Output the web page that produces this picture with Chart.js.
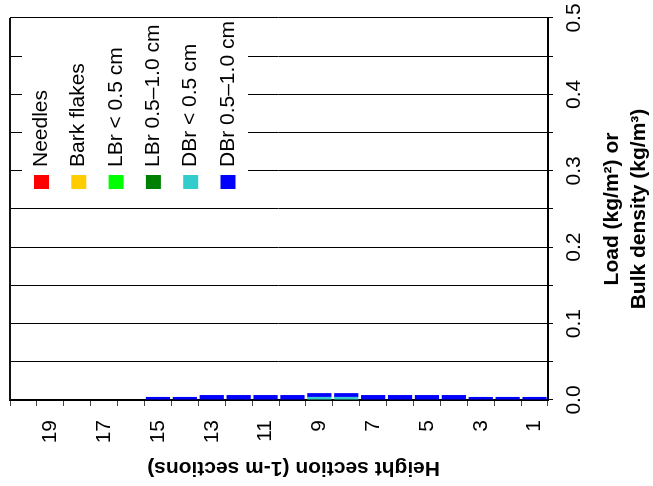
<!DOCTYPE html>
<html>
<head>
<meta charset="utf-8">
<script src="https://cdn.jsdelivr.net/npm/chart.js@4"></script>
<style>
  html, body { margin: 0; padding: 0; background: #fff; overflow: hidden; width: 653px; height: 486px; }
  /* the chart is laid out upright and turned a quarter-turn counter-clockwise */
  #wrap { position: absolute; left: 0; top: 0; width: 486px; height: 653px;
          transform-origin: 0 0; transform: translateY(486px) rotate(-90deg); }
</style>
</head>
<body>
<div id="wrap"><canvas id="c" width="486" height="653"></canvas></div>
<script>
// Height sections, listed top (20) to bottom (1)
const heightSections = ['20','19','18','17','16','15','14','13','12','11','10','9','8','7','6','5','4','3','2','1'];

// Load per fuel class (kg/m2), same order as heightSections
const needles     = [0,0,0,0,0, 0,0, 0,0,0,0, 0,0, 0,0,0,0, 0,0,0];
const barkFlakes  = [0,0,0,0,0, 0,0, 0,0,0,0, 0,0, 0,0,0,0, 0,0,0];
const lbrFine     = [0,0,0,0,0, 0,0, 0,0,0,0, 0,0, 0,0,0,0, 0,0,0];
const lbrCoarse   = [0,0,0,0,0, 0,0, 0,0,0,0, 0,0, 0,0,0,0, 0,0,0];
const dbrFine     = [0,0,0,0,0, 0,0, 0,0,0,0, 0.004,0.004, 0,0,0,0, 0,0,0];
const dbrCoarse   = [0,0,0,0,0, 0.004,0.004, 0.0065,0.0065,0.0065,0.0065, 0.005,0.005, 0.0065,0.0065,0.0065,0.0065, 0.004,0.004,0.004];

// Value axis tick labels
const loadTicks = ['0.0','0.1','0.2','0.3','0.4','0.5'];

Chart.defaults.font.family = '"Liberation Sans", Arial, Helvetica, sans-serif';
Chart.defaults.color = '#000';

// Legend drawn inside the plot on a white panel
const insideLegend = {
  id: 'insideLegend',
  beforeDatasetsDraw(chart) {
    const { ctx, chartArea: a } = chart;
    ctx.save();
    ctx.fillStyle = '#fff';
    ctx.fillRect(a.left + 202, a.top + 12, a.right - 1 - (a.left + 202), 226);
    ctx.restore();
  },
  afterDatasetsDraw(chart) {
    const { ctx, chartArea: a } = chart;
    ctx.save();
    // closing edge of the plot frame
    ctx.strokeStyle = '#111';
    ctx.lineWidth = 2;
    ctx.beginPath();
    ctx.moveTo(a.left, a.top);
    ctx.lineTo(a.right, a.top);
    ctx.stroke();

    ctx.font = '21px "Liberation Sans", Arial, sans-serif';
    ctx.textBaseline = 'alphabetic';
    ctx.textAlign = 'left';
    chart.data.datasets.forEach((ds, i) => {
      const cy = a.top + 31.5 + i * 37.3;
      ctx.fillStyle = ds.backgroundColor;
      ctx.fillRect(a.left + 211, cy - 7.5, 14, 15);
      ctx.fillStyle = '#000';
      ctx.fillText(ds.label, a.left + 233, cy + 5.5);
    });
    ctx.restore();
  }
};

new Chart(document.getElementById('c'), {
  type: 'bar',
  data: {
    labels: heightSections,
    datasets: [
      { label: 'Needles',         data: needles,    backgroundColor: '#ff0000' },
      { label: 'Bark flakes',     data: barkFlakes, backgroundColor: '#ffcc00' },
      { label: 'LBr < 0.5 cm',    data: lbrFine,    backgroundColor: '#00ff00' },
      { label: 'LBr 0.5–1.0 cm',  data: lbrCoarse,  backgroundColor: '#008000' },
      { label: 'DBr < 0.5 cm',    data: dbrFine,    backgroundColor: '#33cccc' },
      { label: 'DBr 0.5–1.0 cm',  data: dbrCoarse,  backgroundColor: '#0000ff' }
    ]
  },
  options: {
    indexAxis: 'y',
    responsive: false,
    animation: false,
    devicePixelRatio: 1,
    layout: { padding: { top: 10, right: 18, left: 0, bottom: 0 } },
    datasets: { bar: { categoryPercentage: 0.9, barPercentage: 1.0, borderWidth: 0 } },
    plugins: { legend: { display: false }, tooltip: { enabled: false } },
    scales: {
      x: {
        stacked: true,
        position: 'bottom',
        min: 0,
        max: 0.5,
        ticks: {
          stepSize: 0.05,
          autoSkip: false,
          maxRotation: 0,
          padding: 9,
          color: '#000',
          font: { size: 21 },
          callback: (v) => {
            const k = Math.round(v * 10);
            return Math.abs(v * 10 - k) < 1e-6 ? loadTicks[k] : '';
          }
        },
        grid: { color: '#000', lineWidth: 1, tickLength: 5 },
        border: { color: '#000', width: 2 },
        title: {
          display: true,
          text: ['Load (kg/m²) or', 'Bulk density (kg/m³)'],
          color: '#000',
          font: { size: 21, weight: 'bold', lineHeight: 1.3 },
          padding: { top: 0, bottom: 0 }
        },
        afterFit: (s) => { s.height = 105; s.paddingLeft = 0; s.paddingRight = 0; }
      },
      y: {
        stacked: true,
        position: 'left',
        grid: { offset: true, drawOnChartArea: false, tickLength: 6, color: '#444', lineWidth: 1 },
        border: { color: '#000', width: 2 },
        ticks: {
          autoSkip: false,
          padding: 14,
          color: '#000',
          font: { size: 21 },
          callback: function (v) {
            const l = this.getLabelForValue(v);
            return Number(l) % 2 === 1 ? l : '';
          }
        },
        title: {
          display: true,
          // trailing spaces nudge the centred title toward section 1
          text: 'Height section (1-m sections)\u00a0\u00a0\u00a0\u00a0\u00a0',
          color: '#000',
          font: { size: 21, weight: 'bold' },
          padding: { top: 6, bottom: 0 }
        },
        afterFit: (s) => { s.width = 86; s.paddingTop = 0; s.paddingBottom = 0; }
      }
    }
  },
  plugins: [insideLegend]
});
</script>
</body>
</html>
